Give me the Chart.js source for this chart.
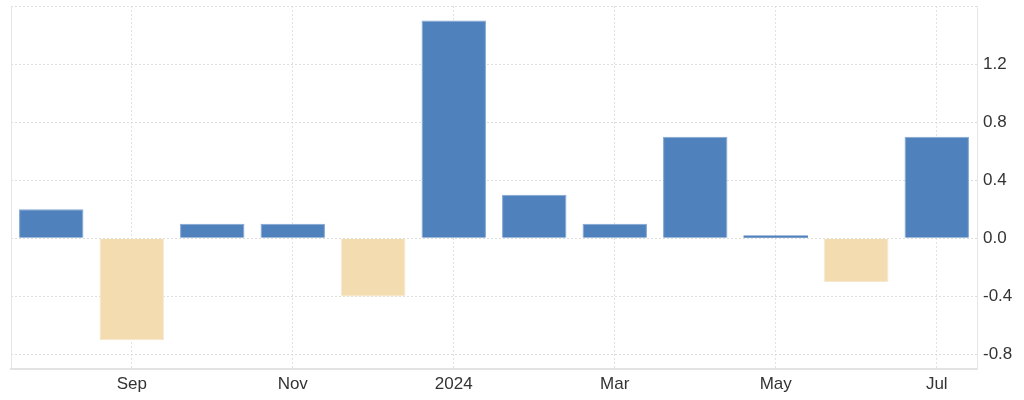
<!DOCTYPE html>
<html><head><meta charset="utf-8">
<script src="https://cdn.jsdelivr.net/npm/chart.js@4/dist/chart.umd.min.js"></script>
<style>html,body{margin:0;padding:0;background:#fff}#wrap{width:1024px;height:400px}</style>
</head><body><div id="wrap"><canvas id="c" width="1024" height="400"></canvas></div>
<script>
const categories = ['Aug','Sep','Oct','Nov','Dec','2024','Feb','Mar','Apr','May','Jun','Jul'];
const values = [0.2,-0.7,0.1,0.1,-0.4,1.5,0.3,0.1,0.7,0.02,-0.3,0.7];
const yTicks = [-0.8,-0.4,0.0,0.4,0.8,1.2,1.6];
const blue = 'rgb(79,129,189)';
const blueEdge = 'rgb(128,165,210)';
const beige = 'rgb(243,221,176)';
const beigeEdge = 'rgb(247,232,205)';
new Chart(document.getElementById('c'), {
  type: 'bar',
  data: { labels: categories, datasets: [{
    data: values,
    backgroundColor: values.map(v => v >= 0 ? blue : beige),
    borderColor: values.map(v => v >= 0 ? blueEdge : beigeEdge),
    borderWidth: values.map(v => Math.abs(v) < 0.05 ? 0 : 1),
    barPercentage: 0.8, categoryPercentage: 1.0
  }]},
  options: {
    responsive: false, animation: false,
    layout: { padding: { left: 11, top: 6, right: 0, bottom: 0 } },
    plugins: { legend: { display: false }, tooltip: { enabled: false } },
    scales: {
      x: {
        offset: true,
        grid: { offset: false, drawTicks: false,
          color: ctx => (ctx.index % 2 === 1) ? '#e2e2e2' : 'rgba(0,0,0,0)' },
        border: { display: true, color: '#e3e3e3', width: 2, dash: [2,2] },
        ticks: { autoSkip: false, maxRotation: 0, padding: 5, color: '#333',
          font: { family: 'Liberation Sans, Arial', size: 17 },
          callback: function(v, i) { return i % 2 === 1 ? categories[i] : ''; } },
        afterFit: s => { s.height = 31; s.paddingLeft = 0; s.paddingRight = 0; }
      },
      y: {
        position: 'right', min: -0.9, max: 1.6,
        afterBuildTicks: s => { s.ticks = yTicks.map(v => ({ value: v })); },
        grid: { color: '#dedede', drawTicks: false },
        border: { display: true, color: '#e6e6e6', dash: [2,2] },
        ticks: { padding: 6, color: '#333',
          font: { family: 'Liberation Sans, Arial', size: 17 },
          callback: v => (v > 1.5 ? '' : v.toFixed(1)) },
        afterFit: s => { s.width = 47; s.paddingTop = 0; s.paddingBottom = 0; }
      }
    }
  },
  plugins: [{
    id: 'frame',
    afterDraw(chart) {
      const a = chart.chartArea, ctx = chart.ctx;
      ctx.save();
      ctx.strokeStyle = '#e6e6e6';
      ctx.lineWidth = 1;
      ctx.beginPath();
      ctx.moveTo(a.left + 0.5, a.top);
      ctx.lineTo(a.left + 0.5, a.bottom);
      ctx.stroke();
      ctx.restore();
    }
  }]
});
</script></body></html>
